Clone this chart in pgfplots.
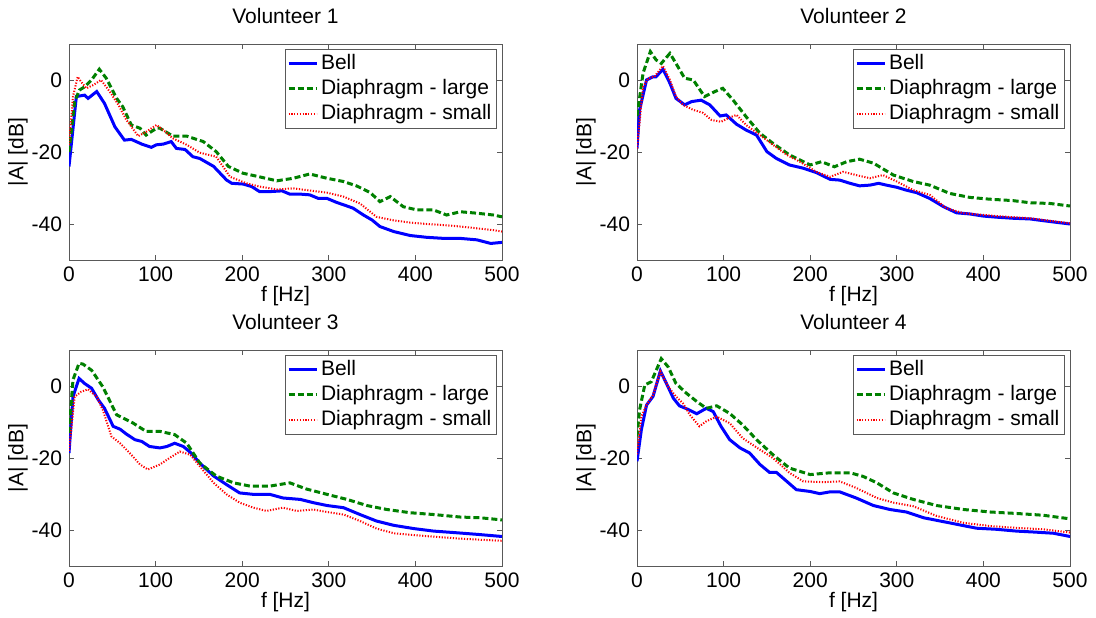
\documentclass[border=0pt]{standalone}
\usepackage{fontspec}
\setmainfont{Liberation Sans}
\usepackage{pgfplots}
\pgfplotsset{compat=1.18}
\definecolor{mBlue}{RGB}{0,0,255}
\definecolor{mGreen}{RGB}{0,128,0}
\definecolor{mRed}{RGB}{255,0,0}

\pgfplotsset{
  vol/.style={
    scale only axis, width=216.5pt, height=108pt,
    xmin=0, xmax=500, ymin=-50, ymax=10,
    xtick={0,100,200,300,400,500}, xticklabels={0,100,200,300,400,500},
    ytick={-40,-20,0}, yticklabels={-40,-20,0},
    tick align=inside, major tick length=2.5pt,
    axis line style={black!65}, every tick/.style={black!65},
    xlabel={f [Hz]}, ylabel={|A| [dB]},
    xlabel style={at={(axis description cs:0.5,-0.167)}, anchor=center},
    ylabel style={at={(axis description cs:-0.118,0.5)}, anchor=center},
    every axis title shift=0pt,
    title style={at={(axis description cs:0.5,1.13)}, anchor=center},
    legend cell align=left,
    legend style={at={(0.988,0.977)}, anchor=north east, draw=black!65, fill=white,
      inner xsep=1pt, inner ysep=1pt, row sep=0pt,
      nodes={inner xsep=1.5pt, inner ysep=1pt, text height=8pt, text depth=2.5pt}},
    legend image code/.code={\draw[#1] (0pt,0pt) -- (14pt,0pt);},
  },
  bell/.style={mBlue, line width=1.5pt},
  large/.style={mGreen, line width=1.5pt, dash pattern=on 3pt off 1.5pt},
  small/.style={mRed, line width=1pt, dash pattern=on 0.6pt off 0.8pt},
}

\begin{document}
\begin{tikzpicture}[font=\fontsize{10.5}{12.5}\selectfont]

\begin{axis}[vol, at={(34.5pt,178.5pt)}, anchor=south west, title={Volunteer 1}]
\addplot[bell] coordinates {(0,-24)(8.5,-4.6)(18,-4.2)(22,-5.1)(32,-3.2)(41,-6.5)(53,-13)(64,-16.7)(72,-16.5)(84,-17.8)(95,-18.7)(101,-18)(109,-17.8)(118,-17.1)(124,-19)(134,-19.3)(143,-21.3)(151,-21.8)(167,-24)(182,-27.8)(188,-28.7)(201,-28.9)(211,-29.6)(220,-31)(232,-31)(246,-30.8)(255,-31.7)(267,-31.7)(278,-31.9)(288,-32.9)(298,-32.9)(309,-34)(321,-35)(328,-35.6)(340,-37.5)(350,-38.9)(359,-40.7)(375,-42.1)(394,-43.2)(413,-43.7)(433,-44)(452,-44)(471,-44.4)(487,-45.4)(500,-45.1)};
\addplot[large] coordinates {(0,-20)(6.5,-6)(12,-2.8)(18,-1.9)(26,0)(35,3)(43,0.5)(55,-5.1)(62,-7.4)(72,-12.5)(82,-13.4)(89,-15.3)(101,-13.4)(105,-13.4)(120,-15.6)(136,-15.6)(155,-17.1)(170,-19.9)(184,-24)(201,-25.9)(220,-26.9)(240,-28)(259,-27.3)(278,-26.1)(298,-27.3)(317,-28.2)(332,-29.4)(348,-31.3)(359,-33.8)(371,-32.4)(386,-35.2)(402,-36.1)(421,-36.1)(436,-37.5)(452,-36.6)(471,-37)(490,-37.5)(500,-38)};
\addplot[small] coordinates {(0,-18)(4.6,-4.6)(10,0.9)(14,-0.5)(20,-2.3)(28,-1.4)(37,0)(47,-3.2)(57,-6.9)(66,-11)(80,-15.6)(89,-14.4)(101,-12.5)(109,-13.9)(120,-16.2)(136,-18)(151,-20.2)(170,-21.3)(186,-26.9)(205,-28.7)(220,-29.6)(240,-30.4)(259,-30.1)(278,-30.7)(298,-31.3)(317,-32.4)(336,-34.3)(355,-38)(375,-39)(394,-39.6)(413,-40)(433,-40.3)(452,-40.7)(471,-41.2)(490,-41.7)(500,-42.1)};
\legend{Bell,Diaphragm - large,Diaphragm - small}
\end{axis}

\begin{axis}[vol, at={(318.5pt,178.5pt)}, anchor=south west, title={Volunteer 2}]
\addplot[bell] coordinates {(0,-19)(3,-8.3)(11,0)(18.5,0.9)(22,0.9)(30,3)(38,-0.9)(45,-5.1)(55,-6.9)(63,-6)(74,-5.6)(84,-6.9)(96,-10)(103,-9.7)(115,-12.3)(126,-13.9)(138,-15.3)(150,-19.9)(161,-21.8)(176,-23.6)(192,-24.5)(207,-25.7)(223,-27.6)(234,-27.8)(246,-28.7)(257,-29.4)(269,-29.2)(279,-28.7)(288,-29.2)(300,-29.8)(311,-30.6)(323,-31.3)(338,-32.9)(354,-35.2)(369,-36.9)(384,-37.2)(400,-37.8)(415,-38.1)(434,-38.4)(454,-38.6)(473,-39.2)(500,-40)};
\addplot[large] coordinates {(0,-10)(7,1.9)(15.4,7.9)(22,5.6)(28,4.6)(38,7.4)(45,4.6)(55,0.5)(65,0)(78,-4.6)(90,-3.2)(99,-2.3)(111,-5.6)(126,-10.2)(142,-14.8)(157,-17.6)(176,-20.8)(200,-23.6)(213,-22.7)(228,-24.1)(242,-22.7)(257,-22)(273,-23.1)(296,-26.4)(319,-28.2)(338,-29.2)(361,-31.5)(384,-32.6)(407,-33.1)(434,-33.5)(454,-34.1)(477,-34.3)(500,-35)};
\addplot[small] coordinates {(0,-19)(7,-1.9)(13,0.5)(20,0.9)(30,3.9)(38,0)(45,-4.6)(53,-6.9)(65,-8.3)(76,-9.1)(86,-11.1)(97,-11.6)(107,-10.4)(115,-9.7)(126,-12.5)(142,-15.3)(157,-18)(173,-20.8)(188,-22.7)(207,-25.5)(223,-26.9)(238,-25.5)(253,-26.4)(269,-27.3)(284,-26.4)(300,-28.2)(319,-30.6)(338,-31.9)(357,-35.6)(377,-37)(415,-37.8)(454,-38.4)(500,-39.8)};
\legend{Bell,Diaphragm - large,Diaphragm - small}
\end{axis}

\begin{axis}[vol, at={(34.5pt,25.5pt)}, anchor=south west, title={Volunteer 3}]
\addplot[bell] coordinates {(0,-18.6)(4.6,-3)(11.6,2.1)(18,0.7)(26,-0.6)(34,-3.9)(41,-6.2)(51,-11.2)(59,-12)(66,-13.3)(76,-14.9)(84,-15.4)(93,-16.8)(105,-17.2)(113,-16.8)(122,-15.9)(132,-16.8)(141,-18.6)(151,-21.4)(167,-25)(182,-27.4)(197,-29.7)(213,-30.1)(232,-30.1)(247,-31.1)(267,-31.5)(282,-32.4)(298,-33.2)(317,-33.8)(336,-35.7)(355,-37.5)(375,-38.7)(398,-39.6)(421,-40.3)(444,-40.7)(471,-41.2)(500,-41.8)};
\addplot[large] coordinates {(0,-13)(4.6,1.7)(11.6,6.3)(16,6.1)(26,4.4)(39,-0.2)(55,-8)(74,-10.3)(89,-12.6)(105,-12.6)(122,-13.5)(136,-15.9)(151,-21.4)(170,-25)(190,-26.9)(209,-27.8)(232,-27.8)(255,-26.9)(274,-28.6)(298,-30.1)(321,-31.5)(344,-33.2)(367,-34.3)(394,-35.2)(421,-35.7)(452,-36.4)(475,-36.6)(500,-37.2)};
\addplot[small] coordinates {(0,-18)(6.5,-3)(14,-1.6)(22,-0.9)(32,-3)(39,-6.6)(49,-14)(59,-15.9)(70,-18.6)(82,-21.8)(91,-23.2)(105,-21.8)(116,-20)(128,-18.2)(140,-19.1)(151,-22.3)(167,-26.9)(182,-30.1)(197,-32.4)(213,-33.8)(228,-34.7)(247,-33.8)(263,-34.7)(282,-34.3)(298,-35)(317,-35.7)(336,-37.5)(355,-39.6)(375,-40.9)(413,-41.7)(452,-42.4)(483,-42.8)(500,-43)};
\legend{Bell,Diaphragm - large,Diaphragm - small}
\end{axis}

\begin{axis}[vol, at={(318.5pt,25.5pt)}, anchor=south west, title={Volunteer 4}]
\addplot[bell] coordinates {(0,-20.9)(5,-12.2)(11,-5.3)(18.5,-2.9)(27,4.2)(34,0.7)(42,-3.4)(49,-5.5)(59,-6.5)(69,-7.7)(80,-6.2)(88,-7.1)(97,-11.2)(107,-14.9)(119,-17.2)(130,-18.6)(142,-21.8)(153,-24)(161,-24)(173,-26.5)(184,-28.8)(200,-29.3)(211,-29.9)(223,-29.4)(234,-29.4)(253,-31.1)(273,-33.2)(292,-34.3)(311,-35)(331,-36.6)(350,-37.5)(369,-38.4)(392,-39.5)(415,-39.8)(438,-40.3)(461,-40.6)(481,-40.9)(500,-41.8)};
\addplot[large] coordinates {(0,-14)(3,-6.6)(9,0.3)(16.5,1.2)(28,7.6)(36,5.3)(45,0.7)(57,-2)(69,-4.3)(80,-6.2)(92,-5.5)(107,-7.6)(122,-10.8)(138,-14.9)(157,-19.1)(176,-22.8)(200,-24.6)(223,-24.1)(246,-24.1)(261,-25.1)(277,-26.9)(296,-29.7)(319,-31.5)(346,-33.2)(377,-34.3)(408,-35)(438,-35.4)(469,-35.9)(500,-36.9)};
\addplot[small] coordinates {(0,-19)(5,-8.5)(11,-5.3)(18.5,-2.5)(27,4)(36,-0.2)(45,-2.9)(53,-4.8)(61,-8)(72,-11.2)(80,-9.8)(92,-8.5)(107,-10.3)(122,-14.5)(142,-17.7)(157,-20)(176,-24.1)(192,-26.5)(215,-26.7)(234,-26.5)(253,-28.3)(277,-31.1)(296,-32.4)(319,-33.4)(346,-36.1)(377,-38)(408,-38.9)(438,-39.4)(469,-39.8)(500,-40.7)};
\legend{Bell,Diaphragm - large,Diaphragm - small}
\end{axis}

\pgfresetboundingbox
\path (0,0) rectangle (548pt,308.5pt);
\end{tikzpicture}
\end{document}
